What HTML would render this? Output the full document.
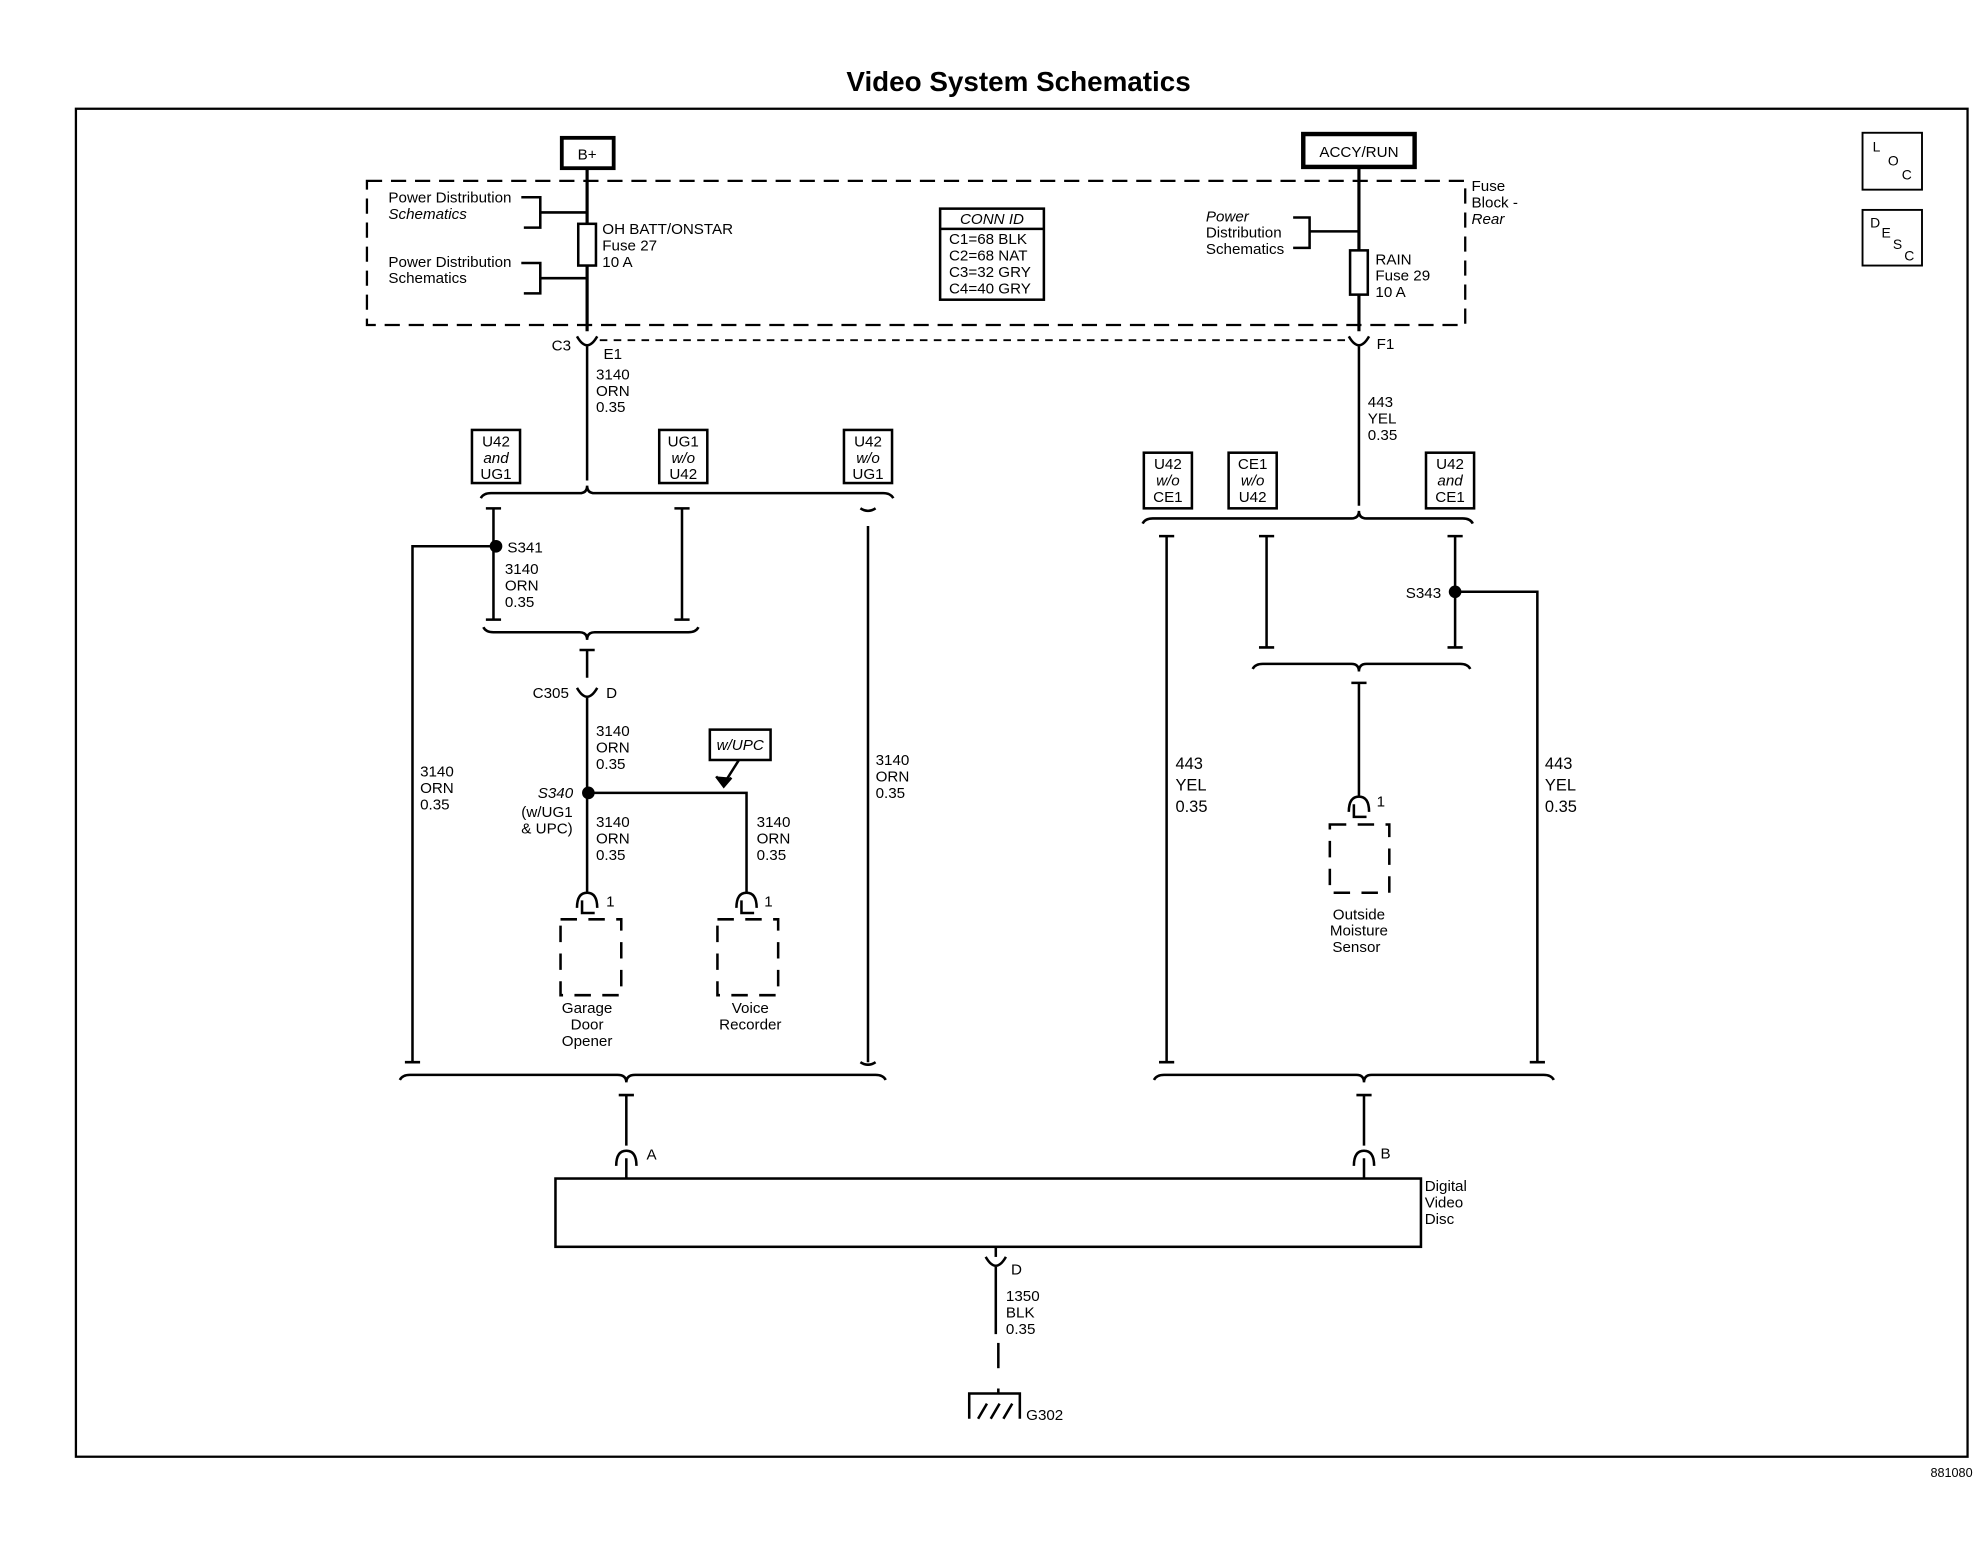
<!DOCTYPE html>
<html><head><meta charset="utf-8"><style>
html,body{margin:0;padding:0;background:#fff;}
svg{display:block;}
text{font-family:"Liberation Sans",sans-serif;font-size:12px;fill:#000;}
.b{font-weight:bold;}
</style></head><body>
<svg width="1984" height="1568" viewBox="0 0 1568 1240" preserveAspectRatio="none" xmlns="http://www.w3.org/2000/svg">
<g stroke="#000" fill="none" stroke-width="2">
<!-- outer frame -->
<rect x="60" y="86" width="1495" height="1066" stroke-width="1.8"/>
<!-- LOC/DESC -->
<rect x="1472" y="105" width="47" height="45" stroke-width="1.5"/>
<rect x="1472" y="166" width="47" height="44" stroke-width="1.5"/>
<!-- B+ and ACCY -->
<rect x="444" y="109" width="41" height="24" stroke-width="3"/>
<rect x="1030" y="106" width="88" height="26" stroke-width="3.5"/>
<!-- fuse block dashed -->
<rect x="290" y="143" width="868" height="114" stroke-dasharray="12,7" stroke-width="1.8"/>
<!-- CONN ID -->
<rect x="743" y="165" width="82" height="72" stroke-width="2"/>
<line x1="743" y1="181" x2="825" y2="181"/>
<!-- left feed -->
<line x1="464" y1="133" x2="464" y2="262" stroke-width="2.5"/>
<rect x="457" y="177" width="14" height="33" fill="#fff"/>
<path d="M412 156 H427 V180 H414 M427 168 H464"/>
<path d="M412 208 H427 V232 H414 M427 220 H464"/>
<!-- right feed -->
<line x1="1074" y1="132" x2="1074" y2="262" stroke-width="2.5"/>
<rect x="1067" y="198" width="14" height="35" fill="#fff"/>
<path d="M1022 172 H1035 V196 H1022 M1035 183 H1074"/>
<!-- dotted line -->
<line x1="474" y1="269" x2="1066" y2="269" stroke-dasharray="6,5" stroke-width="1.5"/>
<!-- connectors C3/F1 -->
<path d="M456 266 Q464 280 472 266"/>
<path d="M1066 266 Q1074 280 1082 266"/>
<line x1="464" y1="274" x2="464" y2="380"/>
<line x1="1074" y1="274" x2="1074" y2="400"/>
<!-- option boxes left -->
<rect x="373" y="340" width="38" height="42" stroke-width="2"/>
<rect x="521" y="340" width="38" height="42" stroke-width="2"/>
<rect x="667" y="340" width="38" height="42" stroke-width="2"/>
<!-- left bus -->
<path d="M380 394 Q382 390 388 390 H458 Q464 390 464 384 Q464 390 470 390 H698 Q704 390 706 394"/>
<path d="M384 402 H396 M390 402 V490 M384 490 H396"/>
<path d="M533 402 H545 M539 402 V490 M533 490 H545"/>
<path d="M680 402 Q686 406 692 402 M686 416 V840"/>
<path d="M392 432 H326 V840"/>
<path d="M382 496 Q384 500 390 500 H458 Q464 500 464 506 Q464 500 470 500 H544 Q550 500 552 496"/>
<path d="M458 514 H470 M464 514 V536"/>
<path d="M456 544 Q464 558 472 544"/>
<line x1="464" y1="552" x2="464" y2="706"/>
<path d="M464 627 H590 V706"/>
<rect x="561" y="577" width="48" height="24" stroke-width="2"/>
<path d="M584 601 L572 620"/><path d="M566 614 L572 622 L578 615" fill="#000"/>
<!-- device connectors -->
<path d="M456 718 Q456 706 464 706 Q472 706 472 718 M460 712 V722 H470"/>
<path d="M582 718 Q582 706 590 706 Q598 706 598 718 M586 712 V722 H596"/>
<rect x="443" y="727" width="48" height="60" stroke-dasharray="13,9" stroke-width="2"/>
<rect x="567" y="727" width="48" height="60" stroke-dasharray="13,9" stroke-width="2"/>
<!-- bottom left bus -->
<path d="M316 854 Q318 850 324 850 H488 Q495 850 495 856 Q495 850 502 850 H692 Q698 850 700 854"/>
<path d="M320 840 H332 M680 840 Q686 844 692 840"/>
<path d="M489 866 H501 M495 866 V906"/>
<path d="M487 922 Q487 910 495 910 Q503 910 503 922 M495 916 V932"/>
<!-- right option boxes -->
<rect x="904" y="358" width="38" height="44" stroke-width="2"/>
<rect x="971" y="358" width="38" height="44" stroke-width="2"/>
<rect x="1127" y="358" width="38" height="44" stroke-width="2"/>
<path d="M903 414 Q905 410 911 410 H1068 Q1074 410 1074 404 Q1074 410 1080 410 H1156 Q1162 410 1164 414"/>
<path d="M916 424 H928 M922 424 V840"/>
<path d="M995 424 H1007 M1001 424 V512 M995 512 H1007"/>
<path d="M1144 424 H1156 M1150 424 V512 M1144 512 H1156"/>
<path d="M1150 468 H1215 V840"/>
<path d="M990 529 Q992 525 998 525 H1068 Q1074 525 1074 531 Q1074 525 1080 525 H1154 Q1160 525 1162 529"/>
<path d="M1068 540 H1080 M1074 540 V630"/>
<path d="M1066 642 Q1066 630 1074 630 Q1082 630 1082 642 M1070 636 V646 H1080"/>
<rect x="1051" y="652" width="47" height="54" stroke-dasharray="13,9" stroke-width="2"/>
<path d="M912 854 Q914 850 920 850 H1072 Q1078 850 1078 856 Q1078 850 1084 850 H1220 Q1226 850 1228 854"/>
<path d="M916 840 H928 M1209 840 H1221"/>
<path d="M1072 866 H1084 M1078 866 V906"/>
<path d="M1070 922 Q1070 910 1078 910 Q1086 910 1086 922 M1078 916 V932"/>
<!-- DVD -->
<rect x="439" y="932" width="684" height="54" stroke-width="2"/>
<path d="M779 994 Q787 1008 795 994"/>
<line x1="787" y1="986" x2="787" y2="994"/>
<line x1="787" y1="1002" x2="787" y2="1055"/>
<line x1="789" y1="1062" x2="789" y2="1082"/>
<path d="M789 1098 V1102 M766 1122 V1102 H806 V1122 M773 1122 L780 1110 M783 1122 L790 1110 M793 1122 L800 1110"/>
</g>
<g fill="#000">
<circle cx="392" cy="432" r="5"/>
<circle cx="465" cy="627" r="5"/>
<circle cx="1150" cy="468" r="5"/>
</g>
<text x="805" y="72" text-anchor="middle" class="b" style="font-size:22px">Video System Schematics</text>
<text x="1559" y="1168" text-anchor="end" style="font-size:10px">881080</text>
<text x="1480" y="120" style="font-size:11px">L</text><text x="1492" y="131" style="font-size:11px">O</text><text x="1503" y="142" style="font-size:11px">C</text>
<text x="1478" y="180" style="font-size:11px">D</text><text x="1487" y="188" style="font-size:11px">E</text><text x="1496" y="197" style="font-size:11px">S</text><text x="1505" y="206" style="font-size:11px">C</text>
<text x="464" y="126" text-anchor="middle">B+</text>
<text x="1074" y="124" text-anchor="middle">ACCY/RUN</text>
<text x="307" y="160">Power Distribution</text><text x="307" y="173" font-style="italic">Schematics</text>
<text x="307" y="211">Power Distribution</text><text x="307" y="224">Schematics</text>
<text x="476" y="185">OH BATT/ONSTAR</text><text x="476" y="198">Fuse 27</text><text x="476" y="211">10 A</text>
<text x="784" y="177" text-anchor="middle" font-style="italic">CONN ID</text>
<text x="750" y="193">C1=68 BLK</text><text x="750" y="206">C2=68 NAT</text><text x="750" y="219">C3=32 GRY</text><text x="750" y="232">C4=40 GRY</text>
<text x="953" y="175" font-style="italic">Power</text><text x="953" y="188">Distribution</text><text x="953" y="201">Schematics</text>
<text x="1087" y="209">RAIN</text><text x="1087" y="222">Fuse 29</text><text x="1087" y="235">10 A</text>
<text x="1163" y="151">Fuse</text><text x="1163" y="164">Block -</text><text x="1163" y="177" font-style="italic">Rear</text>
<text x="436" y="277">C3</text><text x="477" y="284">E1</text><text x="1088" y="276">F1</text>
<text x="471" y="300">3140</text><text x="471" y="313">ORN</text><text x="471" y="326">0.35</text>
<text x="1081" y="322">443</text><text x="1081" y="335">YEL</text><text x="1081" y="348">0.35</text>
<g text-anchor="middle">
<text x="392" y="353">U42</text><text x="392" y="366" font-style="italic">and</text><text x="392" y="379">UG1</text>
<text x="540" y="353">UG1</text><text x="540" y="366" font-style="italic">w/o</text><text x="540" y="379">U42</text>
<text x="686" y="353">U42</text><text x="686" y="366" font-style="italic">w/o</text><text x="686" y="379">UG1</text>
<text x="923" y="371">U42</text><text x="923" y="384" font-style="italic">w/o</text><text x="923" y="397">CE1</text>
<text x="990" y="371">CE1</text><text x="990" y="384" font-style="italic">w/o</text><text x="990" y="397">U42</text>
<text x="1146" y="371">U42</text><text x="1146" y="384" font-style="italic">and</text><text x="1146" y="397">CE1</text>
<text x="585" y="593" font-style="italic">w/UPC</text>
<text x="464" y="801">Garage</text><text x="464" y="814">Door</text><text x="464" y="827">Opener</text>
<text x="593" y="801">Voice</text><text x="593" y="814">Recorder</text>
<text x="1074" y="727">Outside</text><text x="1074" y="740">Moisture</text><text x="1072" y="753">Sensor</text>
</g>
<text x="401" y="437">S341</text>
<text x="399" y="454">3140</text><text x="399" y="467">ORN</text><text x="399" y="480">0.35</text>
<text x="421" y="552">C305</text><text x="479" y="552">D</text>
<text x="471" y="582">3140</text><text x="471" y="595">ORN</text><text x="471" y="608">0.35</text>
<text x="425" y="631" font-style="italic">S340</text><text x="412" y="646">(w/UG1</text><text x="412" y="659">&amp; UPC)</text>
<text x="471" y="654">3140</text><text x="471" y="667">ORN</text><text x="471" y="680">0.35</text>
<text x="598" y="654">3140</text><text x="598" y="667">ORN</text><text x="598" y="680">0.35</text>
<text x="479" y="717">1</text><text x="604" y="717">1</text><text x="1088" y="638">1</text>
<text x="332" y="614">3140</text><text x="332" y="627">ORN</text><text x="332" y="640">0.35</text>
<text x="692" y="605">3140</text><text x="692" y="618">ORN</text><text x="692" y="631">0.35</text>
<text x="1111" y="473">S343</text>
<text x="929" y="608" style="font-size:13px">443</text><text x="929" y="625" style="font-size:13px">YEL</text><text x="929" y="642" style="font-size:13px">0.35</text>
<text x="1221" y="608" style="font-size:13px">443</text><text x="1221" y="625" style="font-size:13px">YEL</text><text x="1221" y="642" style="font-size:13px">0.35</text>
<text x="511" y="917">A</text><text x="1091" y="916">B</text>
<text x="1126" y="942">Digital</text><text x="1126" y="955">Video</text><text x="1126" y="968">Disc</text>
<text x="799" y="1008">D</text>
<text x="795" y="1029">1350</text><text x="795" y="1042">BLK</text><text x="795" y="1055">0.35</text>
<text x="811" y="1123">G302</text>
</svg>
</body></html>
